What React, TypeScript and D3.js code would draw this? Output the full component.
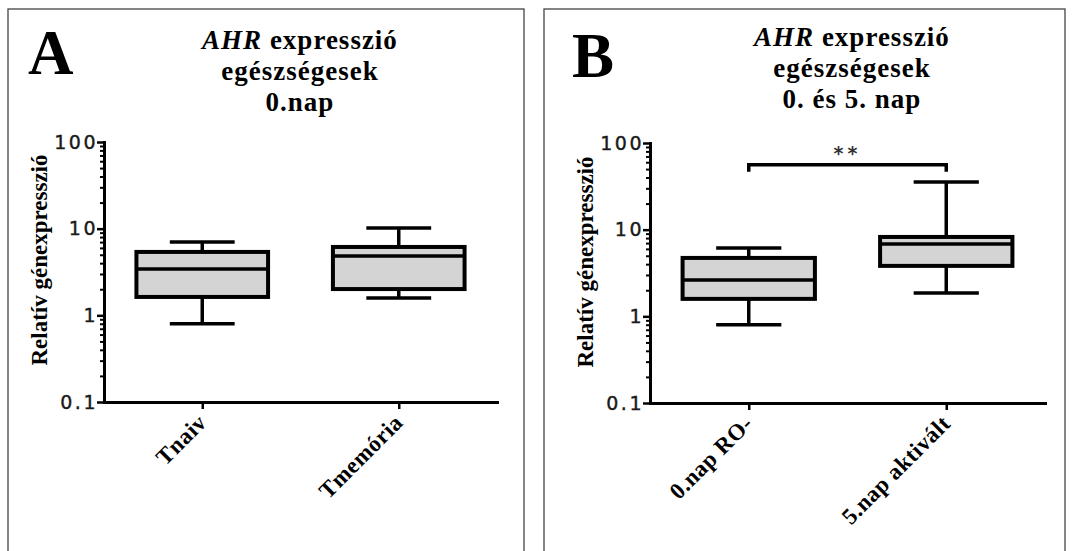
import React, { useEffect, useRef } from 'react';
import { axisBottom, axisLeft, scaleLog, scalePoint, select } from 'd3';

// groups and box statistics: [min, q1, median, q3, max]
const groupsA = ['Tnaiv', 'Tmemória'];
const boxesA = [
  [0.8, 1.63, 3.43, 5.39, 7.03],
  [1.59, 2.01, 4.84, 6.15, 10.2],
];
const groupsB = ['0.nap RO-', '5.nap aktivált'];
const boxesB = [
  [0.8, 1.59, 2.63, 4.72, 6.15],
  [1.86, 3.82, 6.84, 8.24, 35.5],
];
const majorTicks = [0.1, 1, 10, 100];
const majorLabels = ['0.1', '1', '10', '100'];
const titleA = ['egészségesek', '0.nap'];
const titleB = ['egészségesek', '0. és 5. nap'];
const yLabel = 'Relatív génexpresszió';
const sigLabel = '**';
const sigLevel = 56;

const serif = '"Liberation Serif", "Times New Roman", serif';
const sans = '"DejaVu Sans", Verdana, sans-serif';

type PanelProps = {
  letter: string;
  lines: string[];
  groups: string[];
  boxes: number[][];
  bx0: number; bx1: number;
  x0: number; x1: number; yTop: number; yBottom: number;
  titleX: number; titleY: number;
  letterX: number; letterY: number;
  labelX: number; labelY: number;
  sig?: boolean;
};

const Panel: React.FC<PanelProps> = (p) => {
  const gRef = useRef<SVGGElement>(null);
  const y = scaleLog().domain([0.1, 100]).range([p.yBottom, p.yTop]);
  const x = scalePoint().domain(p.groups).range([p.x0, p.x1]).padding(0.5);
  const bw = x.step() * 0.67;
  const cw = x.step() * 0.33;

  useEffect(() => {
    const g = select(gRef.current);
    const minor: number[] = [];
    majorTicks.slice(0, 3).forEach((m) => { for (let k = 2; k <= 9; k++) minor.push(m * k); });

    const ya = g.select<SVGGElement>('.y-axis')
      .attr('transform', `translate(${p.x0},0)`)
      .call(axisLeft(y).tickValues(majorTicks).tickFormat((d, i) => majorLabels[i]).tickSize(7).tickSizeOuter(0).tickPadding(-1));
    ya.attr('font-size', 19).attr('font-family', sans);
    ya.select('.domain').attr('stroke-width', 3).attr('stroke-linecap', 'square');
    ya.selectAll('.tick line').attr('stroke-width', 2.5);
    ya.selectAll('.tick text')
      .attr('font-size', 19).attr('letter-spacing', 2.5).attr('fill', '#1a1a1a')
      .attr('stroke', '#1a1a1a').attr('stroke-width', 0.4);

    const ym = g.select<SVGGElement>('.y-minor')
      .attr('transform', `translate(${p.x0},0)`)
      .call(axisLeft(y).tickValues(minor).tickFormat(() => '').tickSize(4).tickSizeOuter(0));
    ym.select('.domain').remove();
    ym.selectAll('.tick line').attr('stroke-width', 2);

    const xa = g.select<SVGGElement>('.x-axis')
      .attr('transform', `translate(0,${p.yBottom})`)
      .call(axisBottom(x).tickSize(7).tickSizeOuter(0));
    xa.attr('font-size', 23).attr('font-family', serif);
    xa.select('.domain').attr('stroke-width', 3).attr('stroke-linecap', 'square');
    xa.selectAll('.tick line').attr('stroke-width', 2.5);
    xa.selectAll('.tick text')
      .attr('x', 0).attr('y', 0).attr('dy', 0)
      .attr('transform', 'translate(5,22) rotate(-45)')
      .attr('text-anchor', 'end')
      .attr('font-weight', 'bold').attr('letter-spacing', 0.5)
      .attr('fill', '#000');
  }, []);

  const cx = (i: number) => x(p.groups[i]) as number;

  return (
    <g ref={gRef}>
      <rect x={p.bx0} y={9} width={p.bx1 - p.bx0} height={600} fill="none" stroke="#444" strokeWidth={1.3} />
      <text x={p.letterX} y={p.letterY} fontFamily={serif} fontWeight="bold" fontSize={63}>{p.letter}</text>
      <text x={p.titleX} y={p.titleY} textAnchor="middle" fontFamily={serif} fontWeight="bold" fontSize={27} letterSpacing={1}>
        <tspan fontStyle="italic">AHR</tspan> expresszió
      </text>
      {p.lines.map((l, i) => (
        <text key={l} x={p.titleX} y={p.titleY + 31 * (i + 1)} textAnchor="middle" fontFamily={serif}
          fontWeight="bold" fontSize={27} letterSpacing={1}>{l}</text>
      ))}
      <text transform={`translate(${p.labelX},${p.labelY}) rotate(-90)`} textAnchor="middle"
        fontFamily={serif} fontWeight="bold" fontSize={23}>{yLabel}</text>
      <g className="y-minor" />
      <g className="y-axis" />
      <g className="x-axis" />
      {p.boxes.map((b, i) => (
        <g key={i}>
          <line x1={cx(i)} x2={cx(i)} y1={y(b[3])} y2={y(b[4])} stroke="#000" strokeWidth={3.5} />
          <line x1={cx(i)} x2={cx(i)} y1={y(b[1])} y2={y(b[0])} stroke="#000" strokeWidth={3.5} />
          <line x1={cx(i) - cw / 2} x2={cx(i) + cw / 2} y1={y(b[4])} y2={y(b[4])} stroke="#000" strokeWidth={3.5} />
          <line x1={cx(i) - cw / 2} x2={cx(i) + cw / 2} y1={y(b[0])} y2={y(b[0])} stroke="#000" strokeWidth={3.5} />
          <rect x={cx(i) - bw / 2} y={y(b[3])} width={bw} height={y(b[1]) - y(b[3])}
            fill="#d4d4d4" stroke="#000" strokeWidth={4} />
          <line x1={cx(i) - bw / 2} x2={cx(i) + bw / 2} y1={y(b[2])} y2={y(b[2])} stroke="#000" strokeWidth={3.5} />
        </g>
      ))}
      {p.sig && (
        <g>
          <path d={`M${cx(0)},${y(sigLevel) + 7}V${y(sigLevel)}H${cx(1)}V${y(sigLevel) + 7}`}
            fill="none" stroke="#000" strokeWidth={3.5} />
          <text x={(cx(0) + cx(1)) / 2} y={y(sigLevel) - 5} textAnchor="middle" fontFamily={sans}
            fontWeight="bold" fontSize={19} letterSpacing={4} fill="#333">{sigLabel}</text>
        </g>
      )}
    </g>
  );
};

export default function App() {
  return (
    <svg width={1073} height={551} style={{ position: 'absolute', left: 0, top: 0, background: '#fff' }}>
      <Panel letter="A" lines={titleA} groups={groupsA} boxes={boxesA}
        bx0={8} bx1={524} x0={104} x1={497} yTop={142} yBottom={402}
        titleX={300} titleY={49} letterX={28} letterY={74} labelX={47} labelY={260} />
      <Panel letter="B" lines={titleB} groups={groupsB} boxes={boxesB}
        bx0={544} bx1={1065} x0={650} x1={1045} yTop={143} yBottom={403}
        titleX={852} titleY={46} letterX={572} letterY={77} labelX={593} labelY={262} sig />
    </svg>
  );
}
